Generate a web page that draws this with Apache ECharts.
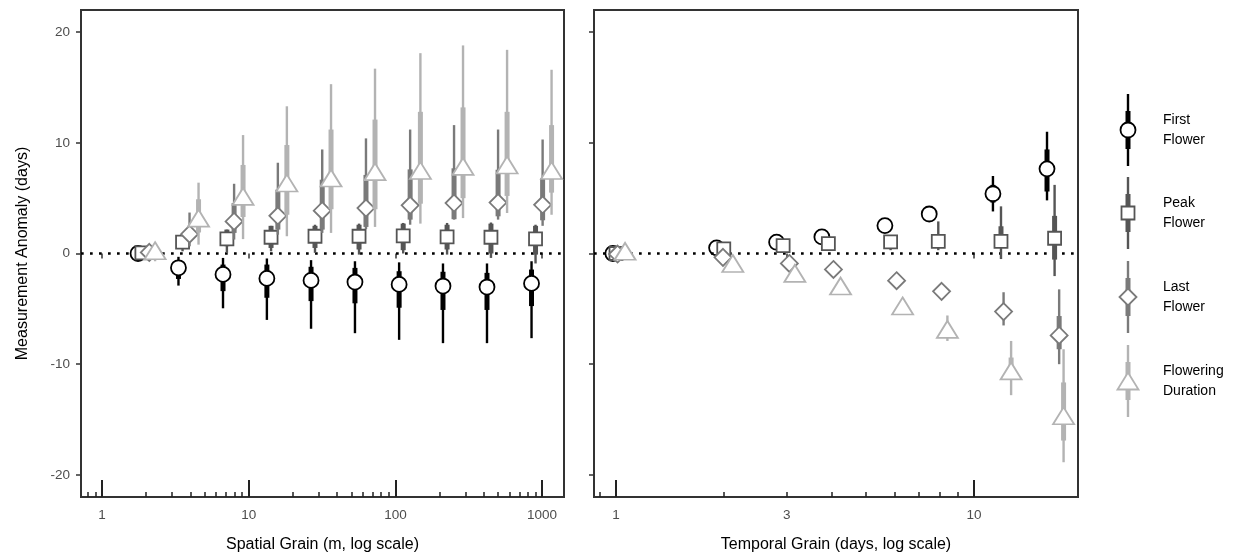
<!DOCTYPE html>
<html><head><meta charset="utf-8">
<script src="https://cdn.jsdelivr.net/npm/echarts@6/dist/echarts.min.js"></script>
<style>html,body{margin:0;padding:0;background:#fff}#c{width:1256px;height:557px}</style>
</head><body><div id="c"></div>
<script>
// ---------- DATA ----------
const metricNames = ['First\nFlower', 'Peak\nFlower', 'Last\nFlower', 'Flowering\nDuration'];
const metricColors = ['#000000', '#555555', '#7a7a7a', '#b3b3b3'];

// Spatial grain panel (x = grain in m, y = anomaly in days)
const spFirstX = [1.76, 3.32, 6.68, 13.3, 26.6, 53, 106, 211, 421, 847];
const spFirstY = [0, -1.29, -1.89, -2.25, -2.43, -2.58, -2.79, -2.94, -3.03, -2.7];
const spFirstCI95 = [[-0.3,0.3],[-2.9,-0.3],[-4.95,-0.4],[-6.0,-0.45],[-6.8,-0.6],[-7.2,-0.7],[-7.8,-0.8],[-8.1,-0.9],[-8.1,-0.9],[-7.65,-0.7]];
const spFirstCI50 = [[-0.1,0.1],[-2.3,-0.7],[-3.4,-1.0],[-4.0,-1.0],[-4.3,-1.2],[-4.5,-1.3],[-4.9,-1.6],[-5.1,-1.65],[-5.1,-1.75],[-4.75,-1.45]];

const spPeakX = [1.87, 3.54, 7.1, 14.2, 28.3, 56.5, 113, 225, 448, 902];
const spPeakY = [0.05, 1.02, 1.32, 1.47, 1.56, 1.56, 1.6, 1.5, 1.47, 1.32];
const spPeakCI95 = [[-0.2,0.3],[0.2,1.7],[0.06,2.16],[0.2,2.5],[0.06,2.6],[-0.1,2.7],[0,2.76],[-0.1,2.76],[-0.4,2.8],[-0.9,2.6]];
const spPeakCI50 = [[-0.1,0.15],[0.6,1.4],[0.66,2.16],[0.5,2.5],[0.5,2.5],[0.36,2.6],[0.3,2.7],[0.36,2.6],[0,2.7],[-0.1,2.5]];

const spLastX = [2.1, 3.95, 7.95, 15.8, 31.7, 63, 126, 251, 501, 1008];
const spLastY = [0.1, 1.75, 2.9, 3.4, 3.87, 4.1, 4.35, 4.56, 4.6, 4.4];
const spLastCI95 = [[-0.2,0.4],[0.65,3.7],[1.26,6.3],[1.7,8.2],[1.86,9.4],[2.2,10.4],[2.6,11.2],[3.06,11.6],[3.06,11.2],[2.5,10.3]];
const spLastCI50 = [[0,0.2],[1.2,2.5],[1.86,4.56],[2.16,5.77],[2.16,6.67],[2.4,7.1],[3.06,7.6],[3.1,7.7],[3.36,7.57],[3.0,6.8]];

const spDurX = [2.3, 4.55, 9.15, 18.2, 36.4, 72.6, 148, 289, 577, 1160];
const spDurY = [0.25, 3.2, 5.16, 6.37, 6.82, 7.4, 7.5, 7.87, 8.0, 7.5];
const spDurCI95 = [[-0.7,0.65],[0.8,6.4],[1.3,10.7],[1.56,13.3],[1.86,15.3],[2.4,16.7],[2.7,18.1],[3.2,18.8],[3.66,18.4],[3.5,16.6]];
const spDurCI50 = [[-0.3,0.4],[1.9,4.9],[3.3,8.0],[3.5,9.8],[4.0,11.2],[4.0,12.1],[4.5,12.8],[5.0,13.2],[5.2,12.8],[5.5,11.6]];

// Temporal grain panel (x = grain in days)
const tpFirstX = [0.98, 1.91, 2.81, 3.76, 5.64, 7.5, 11.3, 16.0];
const tpFirstY = [0, 0.51, 1.02, 1.5, 2.52, 3.57, 5.4, 7.65];
const tpFirstCI95 = [[-0.2,0.2],[0.3,0.7],[0.8,1.2],[1.2,1.8],[2.1,2.9],[2.9,4.2],[3.8,7.0],[4.8,11.0]];
const tpFirstCI50 = [[-0.1,0.1],[0.4,0.6],[0.9,1.1],[1.35,1.65],[2.3,2.7],[3.2,3.9],[4.6,6.2],[5.6,9.4]];

const tpPeakX = [1.0, 2.0, 2.93, 3.92, 5.85, 7.95, 11.9, 16.8];
const tpPeakY = [0, 0.42, 0.72, 0.9, 1.05, 1.1, 1.1, 1.38];
const tpPeakCI95 = [[-0.2,0.2],[0.2,0.6],[0.3,1.0],[0.4,1.3],[0.3,1.6],[0.3,2.9],[-0.5,4.26],[-2.04,6.2]];
const tpPeakCI50 = [[-0.1,0.1],[0.3,0.5],[0.55,0.9],[0.7,1.1],[0.7,1.4],[0.7,1.5],[0.5,2.46],[-0.55,3.4]];

const tpLastX = [1.01, 1.99, 3.05, 4.05, 6.08, 8.12, 12.1, 17.3];
const tpLastY = [-0.05, -0.35, -0.9, -1.44, -2.46, -3.42, -5.25, -7.4];
const tpLastCI95 = [[-0.2,0.1],[-0.6,-0.1],[-1.2,-0.6],[-1.8,-1.1],[-2.9,-2.0],[-3.9,-2.9],[-6.5,-3.5],[-10.0,-3.24]];
const tpLastCI50 = [[-0.1,0],[-0.45,-0.25],[-1.05,-0.75],[-1.6,-1.3],[-2.7,-2.2],[-3.7,-3.1],[-5.9,-4.6],[-8.65,-5.65]];

const tpDurX = [1.06, 2.12, 3.16, 4.24, 6.32, 8.43, 12.7, 17.8];
const tpDurY = [0.2, -0.9, -1.8, -2.94, -4.74, -6.85, -10.6, -14.66];
const tpDurCI95 = [[-0.2,0.5],[-1.2,-0.6],[-2.1,-1.5],[-3.3,-2.6],[-5.1,-4.4],[-7.9,-5.6],[-12.8,-7.9],[-18.86,-8.65]];
const tpDurCI50 = [[0,0.35],[-1.05,-0.75],[-1.95,-1.65],[-3.1,-2.8],[-4.9,-4.55],[-7.3,-6.4],[-11.35,-9.4],[-16.9,-11.65]];

// Axis ticks
const yTicks = [-20, -10, 0, 10, 20];
const spatialTicks = [1, 10, 100, 1000];
const spatialMinor = [0.8, 0.9, 2, 3, 4, 5, 6, 7, 8, 9, 20, 30, 40, 50, 60, 70, 80, 90, 200, 300, 400, 500, 600, 700, 800, 900];
const temporalTicks = [1, 3, 10];
const temporalLogMajor = [1, 10];
const temporalMinor = [0.9, 2, 3, 4, 5, 6, 7, 8, 9];

// ---------- CHART ----------
const FONT = '"Liberation Sans", Arial, sans-serif';
const symbols = ['circle', 'rect', 'diamond', 'triangle'];
const symbolSizes = [15, 13, 17, [21, 17]];

const panels = [
  { metrics: [[spFirstX, spFirstY, spFirstCI95, spFirstCI50], [spPeakX, spPeakY, spPeakCI95, spPeakCI50],
              [spLastX, spLastY, spLastCI95, spLastCI50], [spDurX, spDurY, spDurCI95, spDurCI50]] },
  { metrics: [[tpFirstX, tpFirstY, tpFirstCI95, tpFirstCI50], [tpPeakX, tpPeakY, tpPeakCI95, tpPeakCI50],
              [tpLastX, tpLastY, tpLastCI95, tpLastCI50], [tpDurX, tpDurY, tpDurCI95, tpDurCI50]] }
];

const series = [];
panels.forEach((p, pi) => {
  const xi = pi * 3, yi = pi;
  series.push({
    type: 'scatter', xAxisIndex: xi, yAxisIndex: yi, data: [], silent: true, z: 1,
    markLine: {
      silent: true, symbol: 'none', animation: false,
      label: { show: false },
      lineStyle: { type: [2.7, 6.3], width: 2.7, color: '#000', cap: 'butt' },
      data: [{ yAxis: 0 }]
    }
  });
  p.metrics.forEach((m, mi) => {
    const [xs, ys, c95, c50] = m;
    const color = metricColors[mi];
    series.push({
      type: 'custom', xAxisIndex: xi, yAxisIndex: yi, z: 3 + mi * 2, silent: true,
      encode: { x: 0, y: [1, 2, 3, 4] },
      data: xs.map((x, i) => [x, c95[i][0], c95[i][1], c50[i][0], c50[i][1]]),
      renderItem: function (params, api) {
        const x = api.value(0);
        const a = api.coord([x, api.value(1)]), b = api.coord([x, api.value(2)]);
        const c = api.coord([x, api.value(3)]), d = api.coord([x, api.value(4)]);
        return { type: 'group', children: [
          { type: 'line', shape: { x1: a[0], y1: a[1], x2: b[0], y2: b[1] }, style: { stroke: color, lineWidth: 2.4 } },
          { type: 'line', shape: { x1: c[0], y1: c[1], x2: d[0], y2: d[1] }, style: { stroke: color, lineWidth: 5 } }
        ]};
      }
    });
    series.push({
      type: 'scatter', xAxisIndex: xi, yAxisIndex: yi, z: 4 + mi * 2, silent: true,
      symbol: symbols[mi], symbolSize: symbolSizes[mi],
      itemStyle: { color: '#fff', borderColor: color, borderWidth: 1.8, opacity: 1 },
      data: xs.map((x, i) => [x, ys[i]])
    });
  });
});

function xAxes(gridIndex, min, max, name, labelTicks, logMajor, minor) {
  const common = { gridIndex, type: 'log', logBase: 10, min, max, position: 'bottom', offset: 0,
                   splitLine: { show: false }, axisLine: { show: false } };
  return [
    Object.assign({}, common, {
      name, nameLocation: 'middle', nameGap: 40,
      nameTextStyle: { fontSize: 16, color: '#000', fontFamily: FONT },
      axisTick: { show: true, customValues: labelTicks, length: 5, lineStyle: { color: '#333', width: 1.5 } },
      axisLabel: { show: true, customValues: labelTicks, color: '#4d4d4d', fontSize: 13.5, fontFamily: FONT, margin: 11,
                   formatter: v => String(Math.round(v)) }
    }),
    Object.assign({}, common, {
      axisTick: { show: true, inside: true, customValues: logMajor, length: 17, lineStyle: { color: '#222', width: 2 } },
      axisLabel: { show: false }
    }),
    Object.assign({}, common, {
      axisTick: { show: true, inside: true, customValues: minor, length: 5, lineStyle: { color: '#222', width: 1.5 } },
      axisLabel: { show: false }
    })
  ];
}

function yAxis(gridIndex, showLabels) {
  return {
    gridIndex, type: 'value', min: -22, max: 22, position: 'left',
    name: showLabels ? 'Measurement Anomaly (days)' : '', nameLocation: 'middle', nameGap: 50,
    nameTextStyle: { fontSize: 16, color: '#000', fontFamily: FONT },
    splitLine: { show: false }, axisLine: { show: false },
    axisTick: { show: true, customValues: yTicks, length: 5, lineStyle: { color: '#333', width: 1.5 } },
    axisLabel: { show: showLabels, customValues: yTicks, color: '#4d4d4d', fontSize: 13.5, fontFamily: FONT, margin: 11 }
  };
}

// Legend (drawn as graphics)
const legendCenters = [130, 213, 297, 381];
const LX = 1128, TX = 1163;
const legendChildren = [];
legendCenters.forEach((cy, i) => {
  const color = metricColors[i];
  legendChildren.push({ type: 'line', shape: { x1: LX, y1: cy - 36, x2: LX, y2: cy + 36 }, style: { stroke: color, lineWidth: 2.4 } });
  legendChildren.push({ type: 'line', shape: { x1: LX, y1: cy - 19, x2: LX, y2: cy + 19 }, style: { stroke: color, lineWidth: 5 } });
  const st = { fill: '#fff', stroke: color, lineWidth: 1.8 };
  if (i === 0) legendChildren.push({ type: 'circle', shape: { cx: LX, cy, r: 7.5 }, style: st });
  if (i === 1) legendChildren.push({ type: 'rect', shape: { x: LX - 6.5, y: cy - 6.5, width: 13, height: 13 }, style: st });
  if (i === 2) legendChildren.push({ type: 'polygon', shape: { points: [[LX, cy - 8.5], [LX + 8.5, cy], [LX, cy + 8.5], [LX - 8.5, cy]] }, style: st });
  if (i === 3) legendChildren.push({ type: 'polygon', shape: { points: [[LX, cy - 8.5], [LX + 10.5, cy + 8.5], [LX - 10.5, cy + 8.5]] }, style: st });
  legendChildren.push({ type: 'text', x: TX, y: cy, style: { text: metricNames[i], fill: '#000', fontSize: 14, lineHeight: 20,
    fontFamily: FONT, verticalAlign: 'middle', align: 'left' } });
});

const chart = echarts.init(document.getElementById('c'), null, { renderer: 'canvas' });
chart.setOption({
  animation: false,
  backgroundColor: '#fff',
  grid: [
    { left: 81, top: 10, width: 483, height: 487, show: true, borderColor: '#333', borderWidth: 2, backgroundColor: 'transparent',
      containLabel: false, outerBoundsMode: 'none' },
    { left: 594, top: 10, width: 484, height: 487, show: true, borderColor: '#333', borderWidth: 2, backgroundColor: 'transparent',
      containLabel: false, outerBoundsMode: 'none' }
  ],
  xAxis: [].concat(
    xAxes(0, 0.719, 1410, 'Spatial Grain (m, log scale)', spatialTicks, spatialTicks, spatialMinor),
    xAxes(1, 0.868, 19.53, 'Temporal Grain (days, log scale)', temporalTicks, temporalLogMajor, temporalMinor)
  ),
  yAxis: [yAxis(0, true), yAxis(1, false)],
  graphic: [{ type: 'group', children: legendChildren }],
  series
});
</script>
</body></html>
